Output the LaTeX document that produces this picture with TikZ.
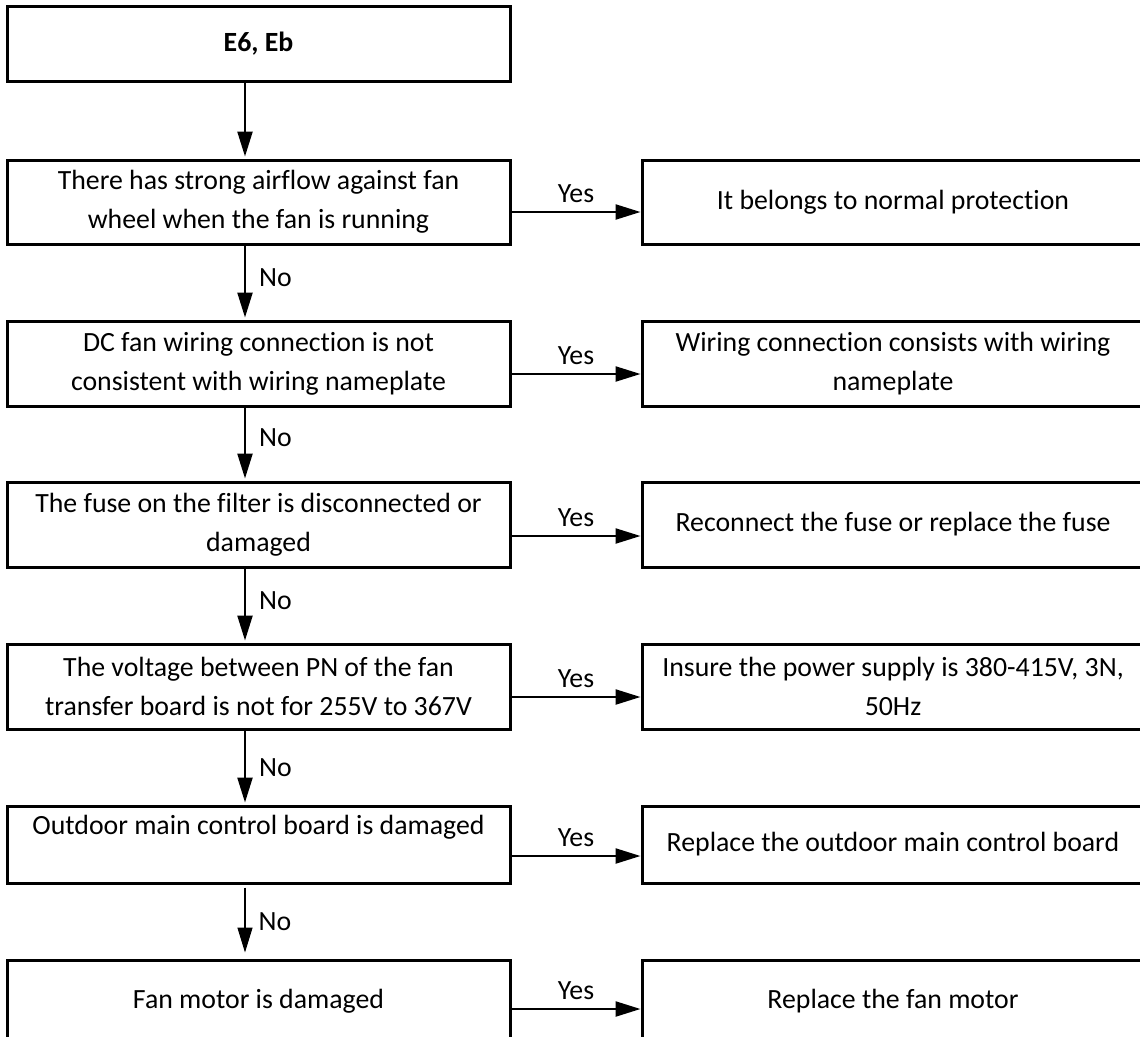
\documentclass[tikz,border=0pt]{standalone}
\usepackage{fontspec}
\setmainfont{Carlito}[Ligatures={NoCommon}]
\usetikzlibrary{arrows.meta}
\begin{document}
\begin{tikzpicture}[x=1pt,y=-1pt,
  box/.style={draw,line width=3pt,rectangle,align=center,inner sep=0pt,
    font=\fontsize{27.8}{39}\selectfont},
  lbox/.style={box,minimum width=503pt,minimum height=84pt},
  rbox/.style={box,minimum width=502pt,minimum height=84pt},
  arr/.style={line width=2.3pt,-{Triangle[length=25pt,width=15pt]}},
  lbl/.style={font=\fontsize{27.8}{33}\selectfont,inner sep=0pt}]
\useasboundingbox (0,0) rectangle (1140,1036);
\clip (0,0) rectangle (1140,1036);
\coordinate (ax) at (245,0);

\node[lbox,minimum height=75pt] (top) at (258.5,43.5) {\textbf{E6, Eb}};

\node[lbox] (l1) at (258.5,202) {There has strong airflow against fan\\wheel when the fan is running};
\node[rbox] (r1) at (893,202) {It belongs to normal protection};

\node[lbox,minimum height=85pt] (l2) at (258.5,363.5) {DC fan wiring connection is not\\consistent with wiring nameplate};
\node[rbox,minimum height=85pt] (r2) at (893,363.5) {Wiring connection consists with wiring\\nameplate};

\node[lbox,minimum height=85pt] (l3) at (258.5,524.5) {The fuse on the filter is disconnected or\\damaged};
\node[rbox,minimum height=85pt] (r3) at (893,524.5) {Reconnect the fuse or replace the fuse};

\node[lbox,minimum height=85pt] (l4) at (258.5,686.5) {The voltage between PN of the fan\\transfer board is not for 255V to 367V};
\node[rbox,minimum height=85pt] (r4) at (893,686.5) {Insure the power supply is 380-415V, 3N,\\50Hz};

\node[lbox,minimum height=77pt] (l5) at (258.5,844.5) {Outdoor main control board is damaged\\\mbox{}};
\node[rbox,minimum height=77pt] (r5) at (893,844.5) {Replace the outdoor main control board};

\node[lbox,minimum height=83pt] (l6) at (258.5,1001.5) {Fan motor is damaged};
\node[rbox,minimum height=83pt] (r6) at (893,1001.5) {Replace the fan motor};

% vertical arrows
\draw[arr,shorten >=2pt] (top.south -| ax) -- (l1.north -| ax);
\draw[arr,shorten >=2pt] (l1.south -| ax) -- node[lbl,pos=0.43,anchor=west,xshift=13pt]{No} (l2.north -| ax);
\draw[arr,shorten >=2pt] (l2.south -| ax) -- node[lbl,pos=0.42,anchor=west,xshift=13pt]{No} (l3.north -| ax);
\draw[arr,shorten >=2pt] (l3.south -| ax) -- node[lbl,pos=0.43,anchor=west,xshift=13pt]{No} (l4.north -| ax);
\draw[arr,shorten >=2pt] (l4.south -| ax) -- node[lbl,pos=0.5,anchor=west,xshift=13pt]{No} (l5.north -| ax);
\draw[arr,line width=1.3pt,shorten <=3pt,shorten >=6pt] (l5.south -| ax) -- node[lbl,pos=0.5,anchor=west,xshift=13pt]{No} (l6.north -| ax);

% horizontal arrows
\draw[arr] ([yshift=-10pt]l1.east) -- node[lbl,anchor=base,yshift=10pt]{Yes} ([yshift=-10pt]r1.west);
\draw[arr] ([yshift=-10.5pt]l2.east) -- node[lbl,anchor=base,yshift=10pt]{Yes} ([yshift=-10.5pt]r2.west);
\draw[arr] ([yshift=-11.5pt]l3.east) -- node[lbl,anchor=base,yshift=10pt]{Yes} ([yshift=-11.5pt]r3.west);
\draw[arr] ([yshift=-10.5pt]l4.east) -- node[lbl,anchor=base,yshift=10pt]{Yes} ([yshift=-10.5pt]r4.west);
\draw[arr] ([yshift=-11.5pt]l5.east) -- node[lbl,anchor=base,yshift=10pt]{Yes} ([yshift=-11.5pt]r5.west);
\draw[arr] ([yshift=-7.5pt]l6.east) -- node[lbl,anchor=base,yshift=10pt]{Yes} ([yshift=-7.5pt]r6.west);
\end{tikzpicture}
\end{document}
